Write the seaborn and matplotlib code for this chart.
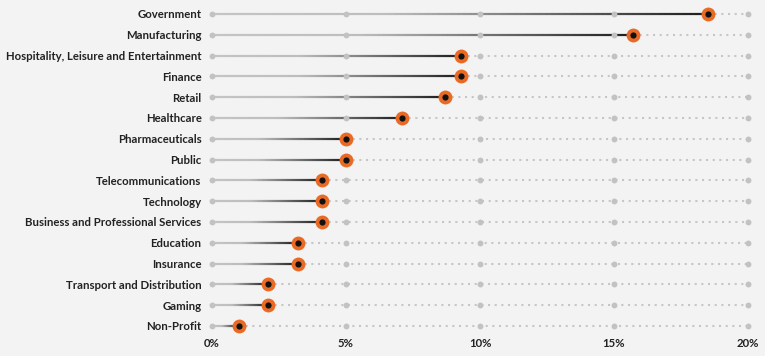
import numpy as np
import pandas as pd
import matplotlib
matplotlib.use("Agg")
import matplotlib.pyplot as plt
import seaborn as sns
from matplotlib.collections import LineCollection
from matplotlib.colors import LinearSegmentedColormap

categories = ["Government", "Manufacturing", "Hospitality, Leisure and Entertainment",
              "Finance", "Retail", "Healthcare", "Pharmaceuticals", "Public",
              "Telecommunications", "Technology", "Business and Professional Services",
              "Education", "Insurance", "Transport and Distribution", "Gaming", "Non-Profit"]
values = [18.5, 15.7, 9.3, 9.3, 8.7, 7.1, 5.0, 5.0, 4.1, 4.1, 4.1, 3.2, 3.2, 2.1, 2.1, 1.0]
xticks = [0, 5, 10, 15, 20]
xtick_labels = ["0%", "5%", "10%", "15%", "20%"]

df = pd.DataFrame({"category": categories, "value": values})
df["pos"] = np.arange(len(df))

sns.set_theme(style="white")
plt.rcParams["font.family"] = ["Lato", "DejaVu Sans"]

BG = "#f3f3f3"
fig = plt.figure(figsize=(7.65, 3.56), dpi=100, facecolor=BG)
W, H = 765, 356
n = len(categories)
row = 20.8
top_px = 14 - row / 2
ax = fig.add_axes([212 / W, 1 - (top_px + n * row) / H, 536 / W, n * row / H])
ax.set_facecolor(BG)

cmap = LinearSegmentedColormap.from_list(
    "g", [(0, "#c4c4c4"), (0.35, "#bdbdbd"), (1, "#1e1e1e")])

# dotted tail
for _, r in df.iterrows():
    ax.plot([r.value, xticks[-1]], [r.pos, r.pos], color="#c6c6c6", lw=1.5,
            linestyle=(0, (1, 2.2)), solid_capstyle="butt", dash_capstyle="butt",
            zorder=1, clip_on=False)

# gradient stem
for _, r in df.iterrows():
    xs = np.linspace(0, r.value, 80)
    pts = np.column_stack([xs, np.full_like(xs, r.pos)])
    segs = np.stack([pts[:-1], pts[1:]], axis=1)
    lc = LineCollection(segs, colors=cmap(np.linspace(0, 1, len(segs))),
                        linewidths=1.6, zorder=2, capstyle="butt")
    ax.add_collection(lc)

# gray grid dots
grid = pd.DataFrame([(t, p) for p in df.pos for t in xticks], columns=["x", "y"])
sns.scatterplot(data=grid, x="x", y="y", ax=ax, color="#c2c2c2", s=18,
                linewidth=0, zorder=3, clip_on=False, legend=False)

# value markers
sns.scatterplot(data=df, x="value", y="pos", ax=ax, color="#e96a24", s=100,
                linewidth=0, zorder=4, clip_on=False, legend=False)
sns.scatterplot(data=df, x="value", y="pos", ax=ax, color="#111111", s=20,
                linewidth=0, zorder=5, clip_on=False, legend=False)

ax.set_xlim(0, 20)
ax.set_ylim(n - 0.5, -0.5)
ax.set_yticks(df.pos)
ax.set_yticklabels(categories, fontsize=8.2, fontweight="bold", color="#222222")
ax.set_xticks(xticks)
ax.set_xticklabels(xtick_labels, fontsize=8.2, fontweight="bold", color="#222222")
ax.tick_params(axis="y", length=0, pad=7.5)
ax.tick_params(axis="x", length=0, pad=1)
ax.set_xlabel("")
ax.set_ylabel("")
for s in ax.spines.values():
    s.set_visible(False)

fig.savefig("out.png", dpi=100, facecolor=BG)
